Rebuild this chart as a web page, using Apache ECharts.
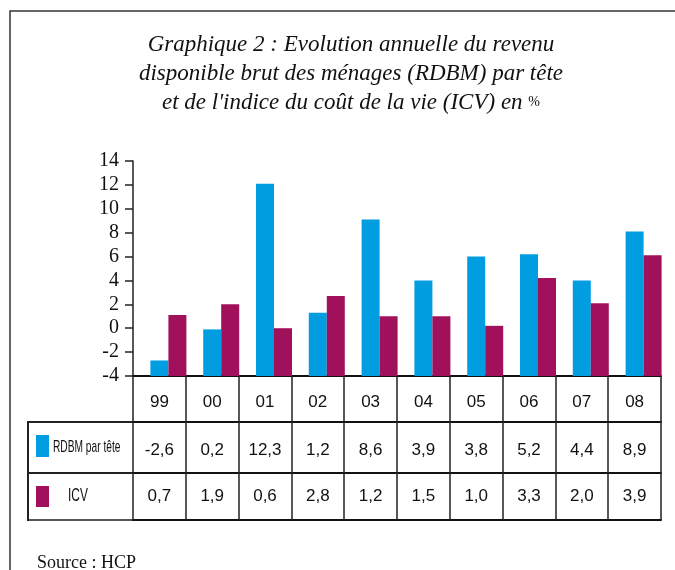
<!DOCTYPE html>
<html><head><meta charset="utf-8">
<script src="https://cdn.jsdelivr.net/npm/echarts@6/dist/echarts.min.js"></script>
<style>html,body{margin:0;padding:0;background:#fff}#c{width:675px;height:570px}</style>
</head><body><div id="c"></div>
<script>
// ---- data ----
const years = ['99','00','01','02','03','04','05','06','07','08'];
// bar heights as drawn in the picture
const rdbmBars = [-2.7, -0.1, 12.1, 1.3, 9.1, 4.0, 6.0, 6.2, 4.0, 8.1];
const icvBars  = [1.1, 2.0, 0.0, 2.7, 1.0, 1.0, 0.2, 4.2, 2.1, 6.1];
// values printed in the table
const rdbmTable = ['-2,6','0,2','12,3','1,2','8,6','3,9','3,8','5,2','4,4','8,9'];
const icvTable  = ['0,7','1,9','0,6','2,8','1,2','1,5','1,0','3,3','2,0','3,9'];
const seriesNames = ['RDBM par tête', 'ICV'];
const yMin = -4, yMax = 14, yInterval = 2;
const titleText = "Graphique 2 : Evolution annuelle du revenu\ndisponible brut des ménages (RDBM) par tête\net de l'indice du coût de la vie (ICV) en {p|%}";
const sourceText = 'Source : HCP';

// ---- styles ----
const colors = ['#009EE0', '#A1105A'];
const SANS = '"Liberation Sans Narrow","Arial Narrow","Liberation Sans",sans-serif';
const SERIF = '"Liberation Serif","Times New Roman",serif';
const lineC = '#222';

function barRenderer(shift) {
  return function (params, api) {
    const cat = api.value(0), v = api.value(1);
    const top = api.coord([cat, v]);
    const base = api.coord([cat, yMin]);
    return {
      type: 'rect',
      shape: { x: top[0] + shift, y: top[1], width: 18, height: base[1] - top[1] },
      style: { fill: api.visual('color') }
    };
  };
}

function tableAxis(data, offset, tickLen, margin, showLabel) {
  return {
    type: 'category', data: data, position: 'bottom', offset: offset, boundaryGap: true,
    axisLine: { show: true, onZero: false, lineStyle: { color: '#111', width: 2 } },
    axisTick: { show: tickLen > 0, length: tickLen, interval: 0, lineStyle: { color: lineC, width: 1.5 } },
    axisLabel: { show: showLabel, interval: 0, margin: margin, fontFamily: SANS, fontSize: 17, lineHeight: 18, color: '#111' },
    splitLine: { show: false }
  };
}

const chart = echarts.init(document.getElementById('c'), null, { renderer: 'canvas' });
chart.setOption({
  animation: false,
  backgroundColor: '#fff',
  title: [
    {
      text: titleText, left: 346, top: 25, textAlign: 'center',
      textStyle: {
        fontFamily: SERIF, fontStyle: 'italic', fontWeight: 'normal', fontSize: 23, lineHeight: 29, color: '#111',
        rich: { p: { fontFamily: SERIF, fontStyle: 'normal', fontSize: 14, color: '#111' } }
      }
    },
    {
      text: sourceText, left: 32, top: 549,
      textStyle: { fontFamily: SERIF, fontWeight: 'normal', fontSize: 18, color: '#111' }
    }
  ],
  legend: [
    {
      data: [seriesNames[0]], left: 36, top: 435, itemWidth: 13, itemHeight: 22, icon: 'rect',
      padding: 0, itemGap: 0, selectedMode: false, formatter: () => '',
      textStyle: { fontSize: 1 }
    },
    {
      data: [seriesNames[1]], left: 36, top: 486, itemWidth: 13, itemHeight: 21, icon: 'rect',
      padding: 0, itemGap: 0, selectedMode: false, formatter: () => '',
      textStyle: { fontSize: 1 }
    }
  ],
  grid: { left: 133, top: 161, right: 14, bottom: 194, outerBoundsMode: 'none', containLabel: false },
  xAxis: [
    tableAxis(years, 0, 46, 17, true),
    tableAxis(rdbmTable, 46, 51, 19, true),
    tableAxis(icvTable, 97, 47, 14, true),
    tableAxis(years, 144, 0, 0, false)
  ],
  yAxis: {
    type: 'value', min: yMin, max: yMax, interval: yInterval,
    axisLine: { show: true, lineStyle: { color: lineC, width: 1.5 } },
    axisTick: { show: true, length: 8, lineStyle: { color: lineC, width: 1.5 } },
    splitLine: { show: false },
    axisLabel: { margin: 14, fontFamily: SERIF, fontSize: 20, color: '#111' }
  },
  series: [
    {
      name: seriesNames[0], type: 'custom', xAxisIndex: 0,
      itemStyle: { color: colors[0] },
      encode: { x: 0, y: 1 },
      renderItem: barRenderer(-9),
      data: years.map((y, i) => [i, rdbmBars[i]])
    },
    {
      name: seriesNames[1], type: 'custom', xAxisIndex: 0,
      itemStyle: { color: colors[1] },
      encode: { x: 0, y: 1 },
      renderItem: barRenderer(9),
      data: years.map((y, i) => [i, icvBars[i]])
    }
  ],
  graphic: [
    { type: 'rect', z: -1, shape: { x: 10, y: 11, width: 700, height: 600 }, style: { fill: 'none', stroke: '#333', lineWidth: 1.5 } },
    { type: 'line', shape: { x1: 28, y1: 422, x2: 133, y2: 422 }, style: { stroke: lineC, lineWidth: 2 } },
    { type: 'line', shape: { x1: 28, y1: 473, x2: 133, y2: 473 }, style: { stroke: lineC, lineWidth: 2 } },
    { type: 'line', shape: { x1: 28, y1: 520, x2: 133, y2: 520 }, style: { stroke: '#555', lineWidth: 2 } },
    { type: 'line', shape: { x1: 28, y1: 421, x2: 28, y2: 521 }, style: { stroke: lineC, lineWidth: 2 } },
    { type: 'text', x: 53, y: 447, scaleX: 0.6,
      style: { text: seriesNames[0], font: '17px ' + SANS, fill: '#111', align: 'left', verticalAlign: 'middle' } },
    { type: 'text', x: 68, y: 496, scaleX: 0.66,
      style: { text: seriesNames[1], font: '18px ' + SANS, fill: '#111', align: 'left', verticalAlign: 'middle' } }
  ]
});
</script>
</body></html>
